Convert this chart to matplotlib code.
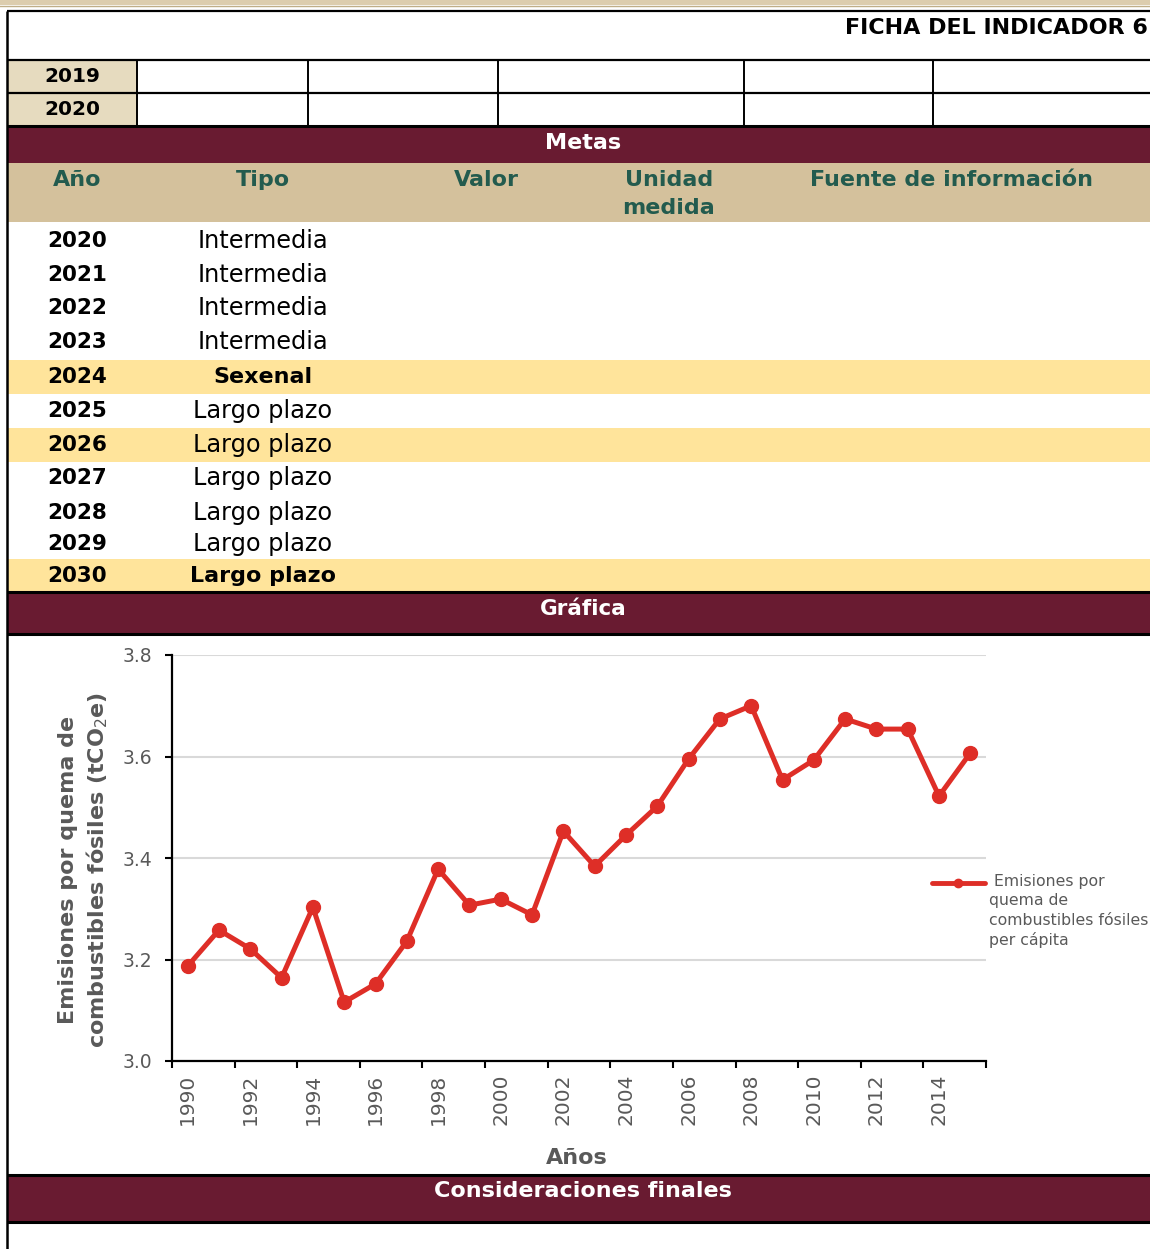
import numpy as np
import matplotlib
matplotlib.use("Agg")
from matplotlib import pyplot as plt
from matplotlib.patches import Rectangle

plt.rcParams['font.family'] = ['DejaVu Sans']

# datos de la grafica
anios = list(range(1990, 2016))
emisiones = [3.187, 3.258, 3.221, 3.164, 3.303, 3.116, 3.152, 3.236, 3.378, 3.307,
             3.319, 3.288, 3.453, 3.384, 3.445, 3.502, 3.595, 3.674, 3.700, 3.554,
             3.593, 3.674, 3.654, 3.654, 3.522, 3.607]
y_ticks = [3.0, 3.2, 3.4, 3.6, 3.8]

# datos de la tabla de metas
metas_anio = ['2020', '2021', '2022', '2023', '2024', '2025', '2026', '2027', '2028', '2029', '2030']
metas_tipo = ['Intermedia', 'Intermedia', 'Intermedia', 'Intermedia', 'Sexenal', 'Largo plazo',
              'Largo plazo', 'Largo plazo', 'Largo plazo', 'Largo plazo', 'Largo plazo']
metas_resaltado = [False, False, False, False, True, False, True, False, False, False, True]
metas_negrita = [False, False, False, False, True, False, False, False, False, False, True]
encabezados = ['Año', 'Tipo', 'Valor', 'Unidad\nmedida', 'Fuente de información']

GUINDA = '#691B31'
TAN = '#D4C19C'
TAN_CLARO = '#E6DBBF'
AMARILLO = '#FFE49B'
VERDE = '#235B4E'
ROJO = '#DE2E27'
GRIS = '#595959'

W, H = 1150, 1249
fig = plt.figure(figsize=(W / 100, H / 100), dpi=100)

# capa de la ficha en pixeles
ax0 = fig.add_axes([0, 0, 1, 1])
ax0.set_xlim(0, W)
ax0.set_ylim(H, 0)
ax0.axis('off')

def rect(x0, y0, x1, y1, color):
    ax0.add_patch(Rectangle((x0, y0), x1 - x0, y1 - y0, facecolor=color, edgecolor='none', zorder=1))

def hline(y, x0=7, x1=W, lw=1.6):
    ax0.plot([x0, x1], [y, y], color='black', lw=lw, zorder=3, solid_capstyle='butt')

def vline(x, y0, y1, lw=1.4):
    ax0.plot([x, x], [y0, y1], color='black', lw=lw, zorder=3, solid_capstyle='butt')

# franja superior dorada
rect(0, 0, W, 5, '#DCCDAE')
ax0.plot([0, W], [5.5, 5.5], color='#BFAE88', lw=1.0)

# cabecera
ax0.text(1148, 28, 'FICHA DEL INDICADOR 6', ha='right', va='center', fontsize=16,
         fontweight='bold', color='black')

# filas 2019 / 2020
rect(7, 60, 137, 126, TAN_CLARO)
ax0.text(72, 76, '2019', ha='center', va='center', fontsize=14.5, fontweight='bold')
ax0.text(72, 109, '2020', ha='center', va='center', fontsize=14.5, fontweight='bold')
for xv in [137, 308, 498, 744, 933]:
    vline(xv, 60, 126)

# Metas
rect(7, 126, W, 163, GUINDA)
ax0.text(583, 143, 'Metas', ha='center', va='center', fontsize=16, fontweight='bold', color='white')
rect(7, 163, W, 222, TAN)
enc_x = [77, 263, 486, 669, 951]
for xe, t in zip(enc_x, encabezados):
    ax0.text(xe, 170, t, ha='center', va='top', fontsize=16, fontweight='bold', color=VERDE,
             linespacing=1.5)

fila_y = [241, 275, 308, 342, 377, 411, 445, 478, 513, 544, 576]
for yv, a, t, res, neg in zip(fila_y, metas_anio, metas_tipo, metas_resaltado, metas_negrita):
    if res:
        rect(7, yv - 17.5, W, yv + 16.5, AMARILLO)
    ax0.text(77, yv, a, ha='center', va='center', fontsize=15.5, fontweight='bold')
    if neg:
        ax0.text(263, yv, t, ha='center', va='center', fontsize=16, fontweight='bold')
    else:
        ax0.text(263, yv, t, ha='center', va='center', fontsize=17.3)

# Grafica
rect(7, 592, W, 634, GUINDA)
ax0.text(583, 609, 'Gráfica', ha='center', va='center', fontsize=15.5, fontweight='bold', color='white')

# Consideraciones finales
rect(7, 1175, W, 1222, GUINDA)
ax0.text(583, 1191, 'Consideraciones finales', ha='center', va='center', fontsize=16,
         fontweight='bold', color='white')

# bordes
hline(11)
hline(60)
hline(93)
hline(126, lw=2.2)
hline(592, lw=2.2)
hline(634, lw=2.2)
hline(1175, lw=2.2)
hline(1222, lw=2.2)
vline(7, 11, H, lw=1.8)

# leyenda manual
ax0.plot([932, 985], [883, 883], color=ROJO, lw=3.5, solid_capstyle='round', zorder=4)
ax0.plot([958], [883], 'o', color=ROJO, ms=6, zorder=4)
ax0.text(989, 874, ' Emisiones por\nquema de\ncombustibles fósiles\nper cápita', ha='left', va='top',
         fontsize=11.3, color=GRIS, linespacing=1.36)

# grafica de la serie
ax = fig.add_axes([172 / W, 1 - 1061 / H, 814 / W, 406 / H])
x = np.arange(len(anios))
ax.plot(x, emisiones, '-o', color=ROJO, lw=3.6, ms=10, zorder=3)
ax.set_xlim(-0.5, len(anios) - 0.5)
ax.set_ylim(3.0, 3.8)
ax.set_yticks(y_ticks)
ax.set_yticklabels(['{:.1f}'.format(v) for v in y_ticks])
ax.grid(axis='y', color='#D9D9D9', lw=1.5)
ax.set_axisbelow(True)

ax.set_xticks(np.arange(-0.5, len(anios), 2))
ax.set_xticklabels([])
ax.set_xticks(x[::2], minor=True)
ax.set_xticklabels([str(a) for a in anios[::2]], minor=True, rotation=90)
ax.tick_params(axis='x', which='minor', length=0, pad=9, labelsize=14.5, labelcolor=GRIS)
ax.tick_params(axis='x', which='major', length=5, width=1.5, direction='out')
ax.tick_params(axis='y', length=5, width=1.5, direction='out', pad=9, labelsize=13.5, labelcolor=GRIS)

for s in ['top', 'right']:
    ax.spines[s].set_visible(False)
for s in ['left', 'bottom']:
    ax.spines[s].set_linewidth(1.6)
ax.patch.set_alpha(0)

ax.set_ylabel('Emisiones por quema de\ncombustibles fósiles (tCO$_2$e)', fontsize=16,
              fontweight='bold', color=GRIS, linespacing=1.35)
ax.yaxis.set_label_coords(-0.076, 0.47)
ax.set_xlabel('Años', fontsize=16, fontweight='bold', color=GRIS)
ax.xaxis.set_label_coords(0.497, -0.215)

fig.savefig('out.png', dpi=100)
